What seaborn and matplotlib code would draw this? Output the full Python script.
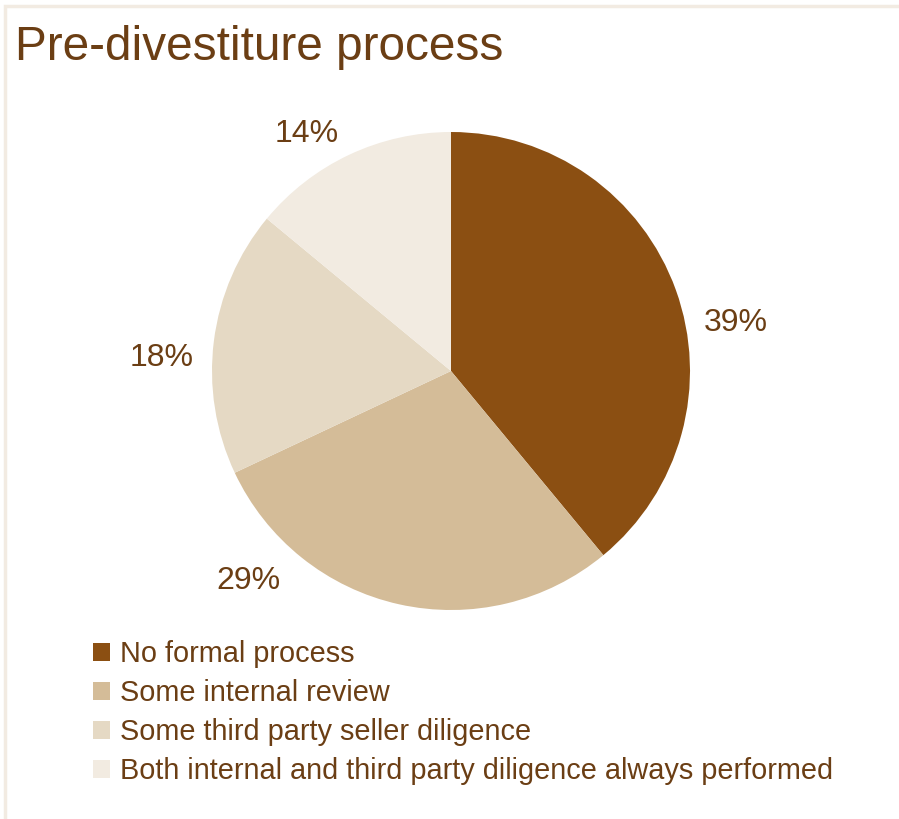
import numpy as np
import matplotlib
matplotlib.use("Agg")
import matplotlib.pyplot as plt
from matplotlib.patches import Rectangle, Patch
import seaborn as sns

# Survey breakdown
categories = [
    "No formal process",
    "Some internal review",
    "Some third party seller diligence",
    "Both internal and third party diligence always performed",
]
shares = [39, 29, 18, 14]
title = "Pre-divestiture process"

colors = ["#8B4F12", "#D4BC98", "#E5D9C4", "#F2EBE1"]
text_color = "#6B3E14"
# where the percentage labels sit around the pie (deg, radius multiple)
label_angles = [10.2, -134.4, 176.8, 121.0]
label_radii = [1.21, 1.213, 1.213, 1.17]

sns.set_theme(style="white")
plt.rcParams["font.family"] = ["Liberation Sans", "DejaVu Sans"]

W, H = 899, 819
fig = plt.figure(figsize=(W / 100, H / 100), dpi=100)
fig.patch.set_facecolor("white")

# chart frame
fig.add_artist(Rectangle((5 / W, -0.05), 1.1, (H - 6) / H + 0.05,
                         transform=fig.transFigure, fill=False,
                         edgecolor="#F2EBE2", linewidth=2.5))

# pie axes: centre (451, 371) px, radius 239 px
cx, cy, R = 451, 371, 239
lim = 1.3
half = lim * R
ax = fig.add_axes([(cx - half) / W, (H - cy - half) / H, 2 * half / W, 2 * half / H])

ax.pie(shares, colors=colors, startangle=90, counterclock=False,
       radius=1.0, wedgeprops=dict(linewidth=0))
ax.set_xlim(-lim, lim)
ax.set_ylim(-lim, lim)
ax.set_aspect("equal")
ax.axis("off")

for v, a, r in zip(shares, label_angles, label_radii):
    t = np.deg2rad(a)
    ax.annotate(f"{v}%", (r * np.cos(t), r * np.sin(t)),
                xytext=(0, -2.2), textcoords="offset points",
                ha="center", va="center", fontsize=23, color=text_color)

fig.text(15 / W, 1 - 60 / H, title, fontsize=34.4, color=text_color,
         ha="left", va="baseline")

handles = [Patch(facecolor=c, edgecolor="none") for c in colors]
leg = fig.legend(handles, categories, loc="upper left",
                 bbox_to_anchor=(93 / W, 1 - 640 / H),
                 frameon=False, fontsize=20.8, handlelength=0.6,
                 handleheight=0.6, handletextpad=0.33, labelspacing=0.38,
                 borderaxespad=0, borderpad=0)
for t in leg.get_texts():
    t.set_color(text_color)

fig.savefig("out.png", dpi=100, facecolor="white")
